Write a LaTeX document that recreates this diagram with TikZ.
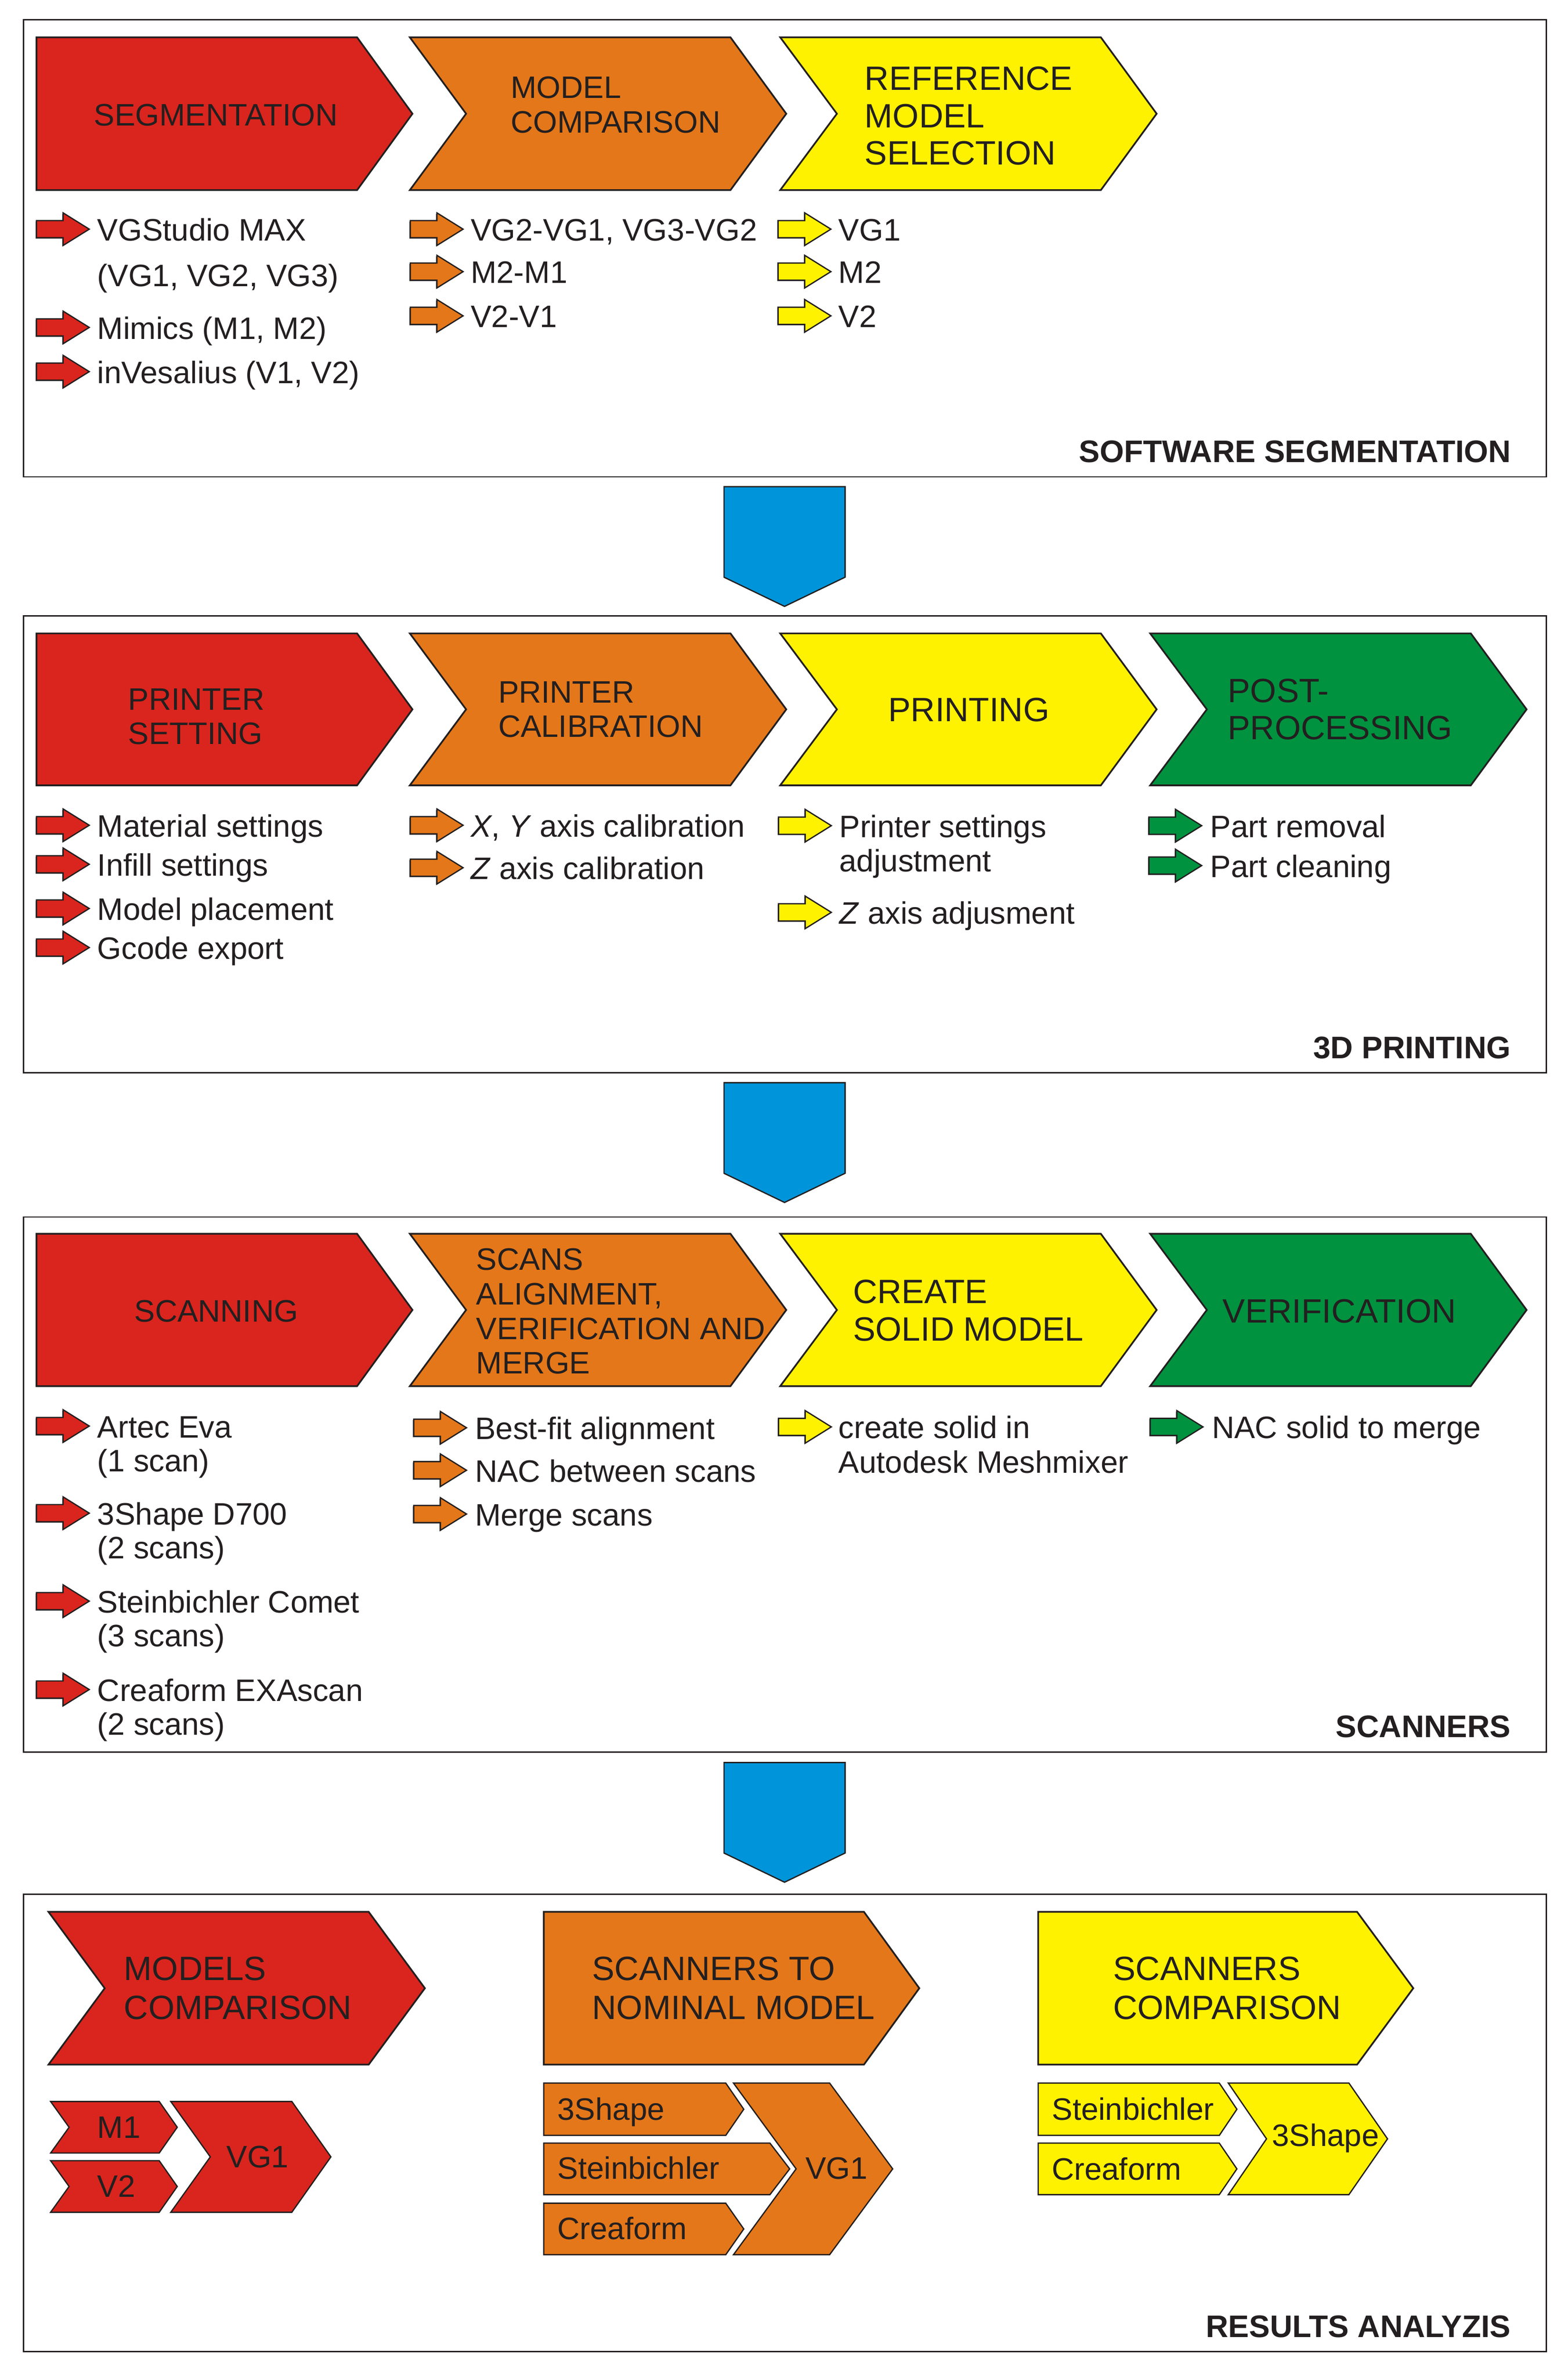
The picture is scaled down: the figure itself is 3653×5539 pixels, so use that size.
\documentclass[tikz,border=0pt]{standalone}
\usepackage{fontspec}
\setmainfont{Liberation Sans}
\definecolor{cred}{RGB}{217,37,29}
\definecolor{corange}{RGB}{228,119,25}
\definecolor{cyellow}{RGB}{255,242,0}
\definecolor{cgreen}{RGB}{0,146,63}
\definecolor{cblue}{RGB}{0,149,218}
\definecolor{ink}{RGB}{35,31,32}
\tikzset{
 txt/.style={inner sep=0pt, outer sep=0pt, anchor=base west, font=\fontsize{72.3}{80}\selectfont, text=ink},
 txtbig/.style={txt, font=\fontsize{78.5}{88}\selectfont},
 lbl/.style={inner sep=0pt, outer sep=0pt, anchor=base east, font=\fontsize{72.6}{80}\selectfont\bfseries, text=ink},
 panel/.style={draw=ink, line width=3pt},
 chevstyle/.style={draw=ink, line width=4pt, line join=miter},
 smallchev/.style={draw=ink, line width=3pt, line join=miter},
 bluearrow/.style={fill=cblue, draw=ink, line width=3pt, line join=miter},
}
% color, xleft, ytop, xright, ybottom, notch, tip, style
\newcommand\mychev[8]{%
 \path[fill=#1,#8] (#2,#3) -- (#4,#3) -- ({#4+#7},{(#3+#5)/2}) -- (#4,#5) -- (#2,#5) -- ({#2+#6},{(#3+#5)/2}) -- cycle;}
% color, x, ycenter
\newcommand\blockarr[3]{%
 \path[fill=ink!75, shift={(-2,2)}] (#2,{#3-20}) -- ({#2+62},{#3-20}) -- ({#2+62},{#3-38}) -- ({#2+123},#3) -- ({#2+62},{#3+38}) -- ({#2+62},{#3+20}) -- (#2,{#3+20}) -- cycle;
 \path[fill=#1, draw=ink, line width=3pt, line join=miter] (#2,{#3-20}) -- ({#2+62},{#3-20}) -- ({#2+62},{#3-38}) -- ({#2+123},#3) -- ({#2+62},{#3+38}) -- ({#2+62},{#3+20}) -- (#2,{#3+20}) -- cycle;}
\newcommand\txtat[4]{\node[txt] (#1) at (#2,#3) {#4};}
\newcommand\txtbigat[4]{\node[txtbig] (#1) at (#2,#3) {#4};}
\begin{document}
\begin{tikzpicture}[x=1pt,y=-1pt]
\useasboundingbox (0,0) rectangle (3653,5539);
\fill[white] (0,0) rectangle (3653,5539);

% ================= PANEL 1 =================
\draw[panel] (55,46) rectangle (3603,1111);
\mychev{cred}{85}{87}{832}{443}{0}{129}{chevstyle}
\mychev{corange}{955}{87}{1702}{443}{131}{130}{chevstyle}
\mychev{cyellow}{1818}{87}{2565}{443}{132}{130}{chevstyle}
\txtat{p1c1}{219}{293}{SEGMENTATION}
\txtat{p1c2a}{1190}{229}{MODEL}
\txtat{p1c2b}{1190}{310}{COMPARISON}
\txtbigat{p1c3a}{2015}{210}{REFERENCE}
\txtbigat{p1c3b}{2015}{297}{MODEL}
\txtbigat{p1c3c}{2015}{384}{SELECTION}

\blockarr{cred}{85}{534}
\txtat{p1a1}{227}{561}{VGStudio MAX}
\txtat{p1a1b}{227}{667}{(VG1, VG2, VG3)}
\blockarr{cred}{85}{763}
\txtat{p1a2}{227}{790}{Mimics (M1, M2)}
\blockarr{cred}{85}{866}
\txtat{p1a3}{227}{893}{inVesalius (V1, V2)}

\blockarr{corange}{956}{534}
\txtat{p1b1}{1097}{561}{VG2-VG1, VG3-VG2}
\blockarr{corange}{956}{633}
\txtat{p1b2}{1097}{660}{M2-M1}
\blockarr{corange}{956}{736}
\txtat{p1b3}{1097}{763}{V2-V1}

\blockarr{cyellow}{1813}{534}
\txtat{p1d1}{1954}{561}{VG1}
\blockarr{cyellow}{1813}{633}
\txtat{p1d2}{1954}{660}{M2}
\blockarr{cyellow}{1813}{736}
\txtat{p1d3}{1954}{763}{V2}

\node[lbl] (lab1) at (3520,1077) {SOFTWARE SEGMENTATION};

% blue arrow 1
\path[bluearrow] (1687,1134) -- (1969,1134) -- (1969,1345) -- (1828,1413) -- (1687,1345) -- cycle;

% ================= PANEL 2 =================
\draw[panel] (55,1435) rectangle (3603,2500);
\mychev{cred}{85}{1476}{832}{1830}{0}{129}{chevstyle}
\mychev{corange}{955}{1476}{1702}{1830}{131}{130}{chevstyle}
\mychev{cyellow}{1818}{1476}{2565}{1830}{132}{130}{chevstyle}
\mychev{cgreen}{2680}{1476}{3427}{1830}{132}{130}{chevstyle}
\txtat{p2c1a}{299}{1654}{PRINTER}
\txtat{p2c1b}{299}{1734}{SETTING}
\txtat{p2c2a}{1161}{1638}{PRINTER}
\txtat{p2c2b}{1161}{1718}{CALIBRATION}
\txtbigat{p2c3}{2070}{1681}{PRINTING}
\txtbigat{p2c4a}{2861}{1637}{POST-}
\txtbigat{p2c4b}{2861}{1723}{PROCESSING}

\blockarr{cred}{85}{1923}
\txtat{p2a1}{227}{1950}{Material settings}
\blockarr{cred}{85}{2014}
\txtat{p2a2}{227}{2041}{Infill settings}
\blockarr{cred}{85}{2117}
\txtat{p2a3}{227}{2144}{Model placement}
\blockarr{cred}{85}{2208}
\txtat{p2a4}{227}{2235}{Gcode export}

\blockarr{corange}{956}{1923}
\txtat{p2b1}{1097}{1950}{\textit{X}, \textit{Y} axis calibration}
\blockarr{corange}{956}{2022}
\txtat{p2b2}{1097}{2049}{\textit{Z} axis calibration}

\blockarr{cyellow}{1814}{1924}
\txtat{p2d1}{1956}{1951}{Printer settings}
\txtat{p2d1b}{1956}{2031}{adjustment}
\blockarr{cyellow}{1814}{2126}
\txtat{p2d2}{1956}{2153}{\textit{Z} axis adjusment}

\blockarr{cgreen}{2677}{1924}
\txtat{p2e1}{2820}{1951}{Part removal}
\blockarr{cgreen}{2677}{2017}
\txtat{p2e2}{2820}{2044}{Part cleaning}

\node[lbl] (lab2) at (3520,2467) {3D PRINTING};

% blue arrow 2
\path[bluearrow] (1687,2523) -- (1969,2523) -- (1969,2734) -- (1828,2802) -- (1687,2734) -- cycle;

% ================= PANEL 3 =================
\draw[panel] (55,2836) rectangle (3603,4083);
\mychev{cred}{85}{2875}{832}{3230}{0}{129}{chevstyle}
\mychev{corange}{955}{2875}{1702}{3230}{131}{130}{chevstyle}
\mychev{cyellow}{1818}{2875}{2565}{3230}{132}{130}{chevstyle}
\mychev{cgreen}{2680}{2875}{3427}{3230}{132}{130}{chevstyle}
\txtat{p3c1}{313}{3080}{SCANNING}
\txtat{p3c2a}{1110}{2959}{SCANS}
\txtat{p3c2b}{1110}{3040}{ALIGNMENT,}
\txtat{p3c2c}{1110}{3121}{VERIFICATION AND}
\txtat{p3c2d}{1110}{3201}{MERGE}
\txtbigat{p3c3a}{1988}{3037}{CREATE}
\txtbigat{p3c3b}{1988}{3124}{SOLID MODEL}
\txtbigat{p3c4}{2849}{3082}{VERIFICATION}

\blockarr{cred}{85}{3323}
\txtat{p3a1}{227}{3350}{Artec Eva}
\txtat{p3a1b}{227}{3429}{(1 scan)}
\blockarr{cred}{85}{3526}
\txtat{p3a2}{227}{3553}{3Shape D700}
\txtat{p3a2b}{227}{3632}{(2 scans)}
\blockarr{cred}{85}{3731}
\txtat{p3a3}{227}{3758}{Steinbichler Comet}
\txtat{p3a3b}{227}{3837}{(3 scans)}
\blockarr{cred}{85}{3937}
\txtat{p3a4}{227}{3964}{Creaform EXAscan}
\txtat{p3a4b}{227}{4043}{(2 scans)}

\blockarr{corange}{964}{3327}
\txtat{p3b1}{1107}{3354}{Best-fit alignment}
\blockarr{corange}{964}{3426}
\txtat{p3b2}{1107}{3453}{NAC between scans}
\blockarr{corange}{964}{3528}
\txtat{p3b3}{1107}{3555}{Merge scans}

\blockarr{cyellow}{1814}{3325}
\txtat{p3d1}{1954}{3352}{create solid in}
\txtat{p3d1b}{1954}{3433}{Autodesk Meshmixer}

\blockarr{cgreen}{2680}{3325}
\txtat{p3e1}{2824}{3352}{NAC solid to merge}

\node[lbl] (lab3) at (3520,4048) {SCANNERS};

% blue arrow 3
\path[bluearrow] (1687,4107) -- (1969,4107) -- (1969,4318) -- (1828,4386) -- (1687,4318) -- cycle;

% ================= PANEL 4 =================
\draw[panel] (55,4414) rectangle (3603,5480);
\mychev{cred}{113}{4455}{859}{4811}{131}{131}{chevstyle}
\mychev{corange}{1267}{4455}{2013}{4811}{0}{129}{chevstyle}
\mychev{cyellow}{2419}{4455}{3162}{4811}{0}{131}{chevstyle}
\txtbigat{p4c1a}{289}{4615}{MODELS}
\txtbigat{p4c1b}{289}{4705}{COMPARISON}
\txtbigat{p4c2a}{1380}{4615}{SCANNERS TO}
\txtbigat{p4c2b}{1380}{4705}{NOMINAL MODEL}
\txtbigat{p4c3a}{2594}{4615}{SCANNERS}
\txtbigat{p4c3b}{2594}{4705}{COMPARISON}

% red group
\mychev{cred}{118}{4897}{371}{5017}{43}{42}{smallchev}
\mychev{cred}{118}{5035}{371}{5155}{43}{42}{smallchev}
\mychev{cred}{398}{4897}{680}{5155}{92}{91}{smallchev}
\txtat{p4r1}{227}{4982}{M1}
\txtat{p4r2}{227}{5120}{V2}
\txtat{p4r3}{528}{5051}{VG1}

% orange group
\mychev{corange}{1267}{4854}{1691}{4976}{0}{42}{smallchev}
\mychev{corange}{1267}{4994}{1794}{5114}{0}{46}{smallchev}
\mychev{corange}{1267}{5134}{1691}{5254}{0}{42}{smallchev}
\mychev{corange}{1709}{4854}{1933}{5254}{146}{147}{smallchev}
\txtat{p4o1}{1299}{4940}{3Shape}
\txtat{p4o2}{1299}{5078}{Steinbichler}
\txtat{p4o3}{1299}{5218}{Creaform}
\txtat{p4o4}{1877}{5078}{VG1}

% yellow group
\mychev{cyellow}{2419}{4854}{2841}{4976}{0}{41}{smallchev}
\mychev{cyellow}{2419}{4994}{2841}{5114}{0}{41}{smallchev}
\mychev{cyellow}{2862}{4854}{3143}{5114}{89}{90}{smallchev}
\txtat{p4y1}{2451}{4940}{Steinbichler}
\txtat{p4y2}{2451}{5080}{Creaform}
\txtat{p4y3}{2964}{5001}{3Shape}

\node[lbl] (lab4) at (3520,5446) {RESULTS ANALYZIS};
\end{tikzpicture}
\end{document}
